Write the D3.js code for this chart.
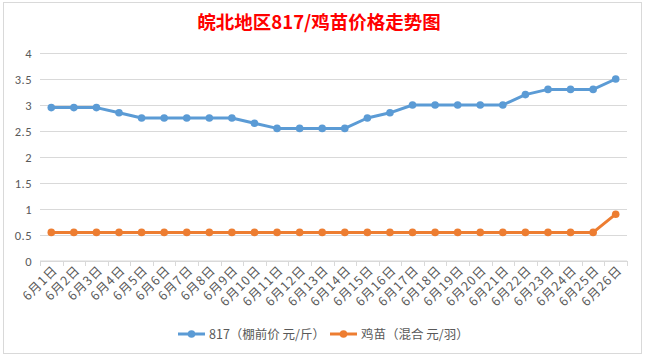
<!DOCTYPE html>
<html>
<head>
<meta charset="utf-8">
<script src="https://cdn.jsdelivr.net/npm/d3@7"></script>
<style>
  body { margin: 0; background: #fff; }
  text { font-family: "Noto Sans CJK SC", "Microsoft YaHei", sans-serif; }
</style>
</head>
<body>
<div class="plot1"></div>
<script>
// 皖北地区817/鸡苗价格走势图

// data
var days = ["6月1日", "6月2日", "6月3日", "6月4日", "6月5日", "6月6日", "6月7日", "6月8日", "6月9日",
  "6月10日", "6月11日", "6月12日", "6月13日", "6月14日", "6月15日", "6月16日", "6月17日", "6月18日",
  "6月19日", "6月20日", "6月21日", "6月22日", "6月23日", "6月24日", "6月25日", "6月26日"];
var price817 = [2.95, 2.95, 2.95, 2.85, 2.75, 2.75, 2.75, 2.75, 2.75, 2.65, 2.55, 2.55, 2.55,
  2.55, 2.75, 2.85, 3.0, 3.0, 3.0, 3.0, 3.0, 3.2, 3.3, 3.3, 3.3, 3.5];
var priceChick = [0.55, 0.55, 0.55, 0.55, 0.55, 0.55, 0.55, 0.55, 0.55, 0.55, 0.55, 0.55, 0.55,
  0.55, 0.55, 0.55, 0.55, 0.55, 0.55, 0.55, 0.55, 0.55, 0.55, 0.55, 0.55, 0.9];
var yTicks = [0, 0.5, 1, 1.5, 2, 2.5, 3, 3.5, 4];
var seriesNames = ["817（棚前价 元/斤）", "鸡苗（混合 元/羽）"];
var seriesColors = ["#5b9bd5", "#ed7d31"];

var svgWidth = 646;
var svgHeight = 360;
var margin = { top: 53, right: 19, bottom: 99, left: 40 };
var width = svgWidth - margin.left - margin.right;
var height = svgHeight - margin.top - margin.bottom;

var svg = d3.select(".plot1")
  .append("svg")
  .attr("width", svgWidth)
  .attr("height", svgHeight);

// chart frame
svg.append("rect")
  .attr("x", 3.5).attr("y", 2.5)
  .attr("width", 638).attr("height", 351)
  .attr("fill", "#fff")
  .attr("stroke", "#d9d9d9");

// title
svg.append("text")
  .attr("x", 319)
  .attr("y", 29)
  .attr("text-anchor", "middle")
  .attr("fill", "#ff0000")
  .style("font-size", "18.5px")
  .style("font-weight", "bold")
  .text("皖北地区817/鸡苗价格走势图");

var chartGroup = svg.append("g")
  .attr("transform", `translate(${margin.left}, ${margin.top})`);

var xScale = d3.scaleBand().domain(days).range([0, width]);
var yScale = d3.scaleLinear().domain([0, 4]).range([height, 0]);

// gridlines + y labels
var leftAxis = d3.axisLeft(yScale)
  .tickValues(yTicks)
  .tickSize(-width)
  .tickPadding(8)
  .tickFormat(d3.format("~g"));

var yAxis = chartGroup.append("g").call(leftAxis);
yAxis.select(".domain").remove();
yAxis.selectAll(".tick line").attr("stroke", "#d9d9d9");
yAxis.selectAll(".tick text")
  .attr("fill", "#595959")
  .style("font-size", "12.5px")
  .style("letter-spacing", "0.5px")
  .style("font-family", "Calibri, Carlito, 'Liberation Sans', sans-serif");

// x axis (Excel style ticks at category boundaries)
var xAxisG = chartGroup.append("g").attr("transform", `translate(0, ${height})`);
xAxisG.append("line")
  .attr("x1", 0).attr("x2", width)
  .attr("stroke", "#d9d9d9");
var bounds = days.map(d => xScale(d)).concat([width]);
xAxisG.selectAll(".bt")
  .data(bounds)
  .enter()
  .append("line")
  .attr("x1", d => Math.round(d) + 0.5)
  .attr("x2", d => Math.round(d) + 0.5)
  .attr("y1", 0).attr("y2", 5)
  .attr("stroke", "#d9d9d9");

xAxisG.selectAll(".xl")
  .data(days)
  .enter()
  .append("text")
  .attr("text-anchor", "end")
  .attr("transform", d => `translate(${xScale(d) + xScale.bandwidth() / 2 + 7}, 10) rotate(-45)`)
  .attr("fill", "#595959")
  .style("font-size", "12.5px")
  .style("letter-spacing", "1px")
  .text(d => d);

// lines
var allSeries = [price817, priceChick];
var line = d3.line()
  .x((d, i) => xScale(days[i]) + xScale.bandwidth() / 2)
  .y(d => yScale(d));

allSeries.forEach((vals, k) => {
  chartGroup.append("path")
    .datum(vals)
    .attr("d", line)
    .attr("fill", "none")
    .attr("stroke", seriesColors[k])
    .attr("stroke-width", 3)
    .attr("stroke-linejoin", "round");

  chartGroup.selectAll(".pt" + k)
    .data(vals)
    .enter()
    .append("circle")
    .attr("cx", (d, i) => xScale(days[i]) + xScale.bandwidth() / 2)
    .attr("cy", d => yScale(d))
    .attr("r", 3.8)
    .attr("fill", seriesColors[k]);
});

// legend
var legendX = [178, 330];
seriesNames.forEach((name, k) => {
  var g = svg.append("g").attr("transform", `translate(${legendX[k]}, 334)`);
  g.append("line")
    .attr("x1", 0).attr("x2", 27)
    .attr("stroke", seriesColors[k])
    .attr("stroke-width", 3);
  g.append("circle")
    .attr("cx", 13.5).attr("cy", 0).attr("r", 3.8)
    .attr("fill", seriesColors[k]);
  g.append("text")
    .attr("x", 31)
    .attr("y", 4.5)
    .attr("fill", "#595959")
    .style("font-size", "12.5px")
    .text(name);
});
</script>
</body>
</html>
